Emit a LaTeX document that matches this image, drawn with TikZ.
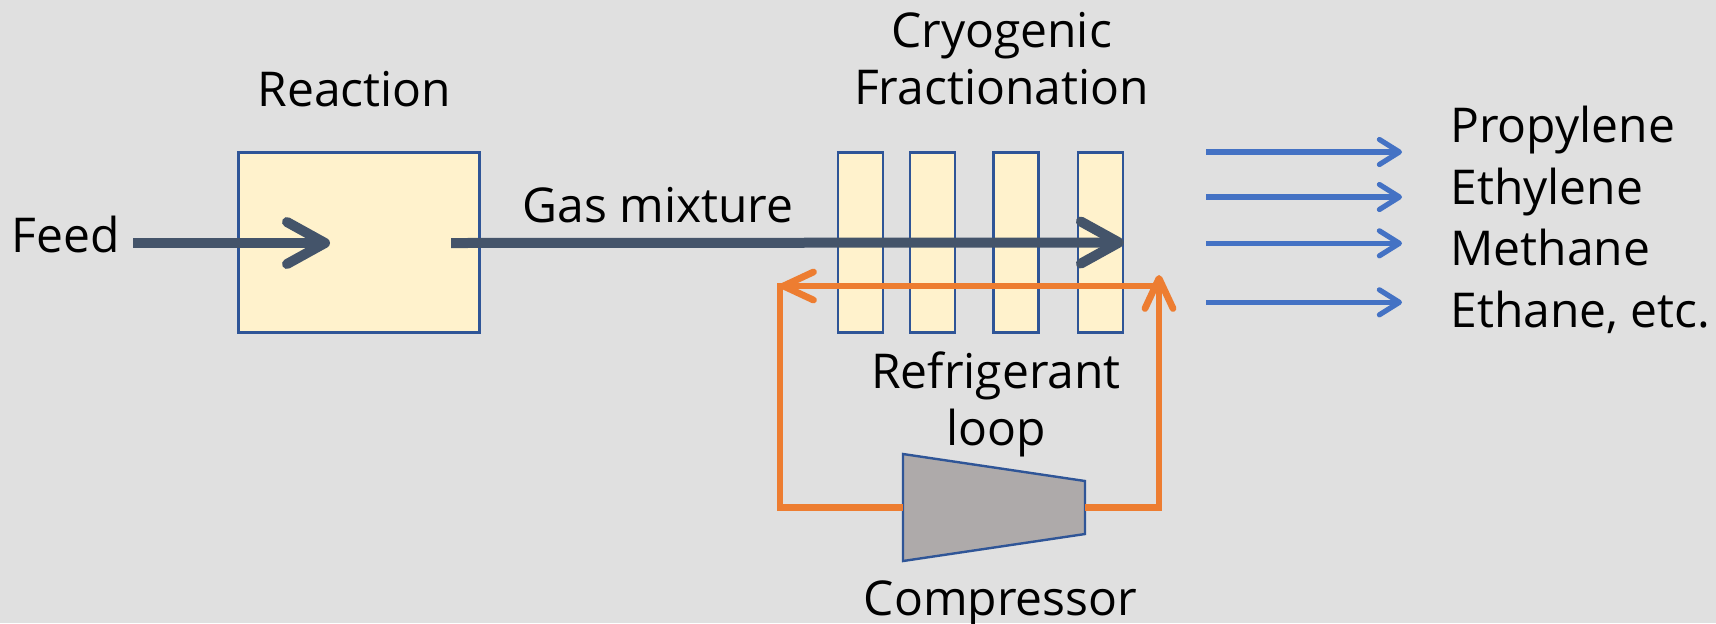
\documentclass[tikz,border=0pt]{standalone}
\usepackage{fontspec}
\setmainfont{Open Sans}
\usetikzlibrary{arrows.meta}
\definecolor{slide}{HTML}{E0E0E0}
\definecolor{unitfill}{HTML}{FFF2CC}
\definecolor{unitline}{HTML}{2F5597}
\definecolor{streamdark}{HTML}{44546A}
\definecolor{loopline}{HTML}{ED7D31}
\definecolor{productline}{HTML}{4472C4}
\definecolor{compfill}{HTML}{AEAAAA}

\begin{document}
\begin{tikzpicture}[
        x=0.5pt, y=-0.5pt,
        every node/.style={font=\fontsize{24}{28.5}\selectfont, inner sep=0pt},
        unit/.style={draw=unitline, line width=1.2pt, fill=unitfill},
        mainflow/.style={draw=streamdark, line width=5pt, -{Straight Barb[length=19pt, width=21pt, round]}},
        refloop/.style={draw=loopline, line width=3.4pt},
        looptip/.style={-{Straight Barb[length=15pt, width=14pt, round]}},
        product/.style={draw=productline, line width=2.6pt, -{Straight Barb[length=10pt, width=12.5pt, round]}}
    ]
        \useasboundingbox (0,0) rectangle (1716,623);
        \fill[slide] (0,0) rectangle (1716,623);

        % units
        \node[unit, minimum width=120.5pt, minimum height=90pt] (reactor) at (359,242.5) {};
        \node[unit, minimum width=22.5pt, minimum height=90pt] (col1) at (860.3,242.5) {};
        \node[unit, minimum width=22.5pt, minimum height=90pt] (col2) at (932.7,242.5) {};
        \node[unit, minimum width=22.5pt, minimum height=90pt] (col3) at (1015.9,242.5) {};
        \node[unit, minimum width=22.5pt, minimum height=90pt] (col4) at (1100.2,242.5) {};
        \draw[unitline, line width=1.2pt, fill=compfill]
            (903,454) -- (1085,481) -- (1085,534) -- (903,561) -- cycle;
        \coordinate (compin) at (903,507.5);
        \coordinate (compout) at (1085,507.5);

        % labels
        \node[anchor=base] (feed) at (66,252.5) {Feed};
        \node[anchor=base] (reactlabel) at (354.5,106) {Reaction};
        \node[anchor=base] (mixlabel) at (658,222) {Gas mixture};
        \node[anchor=base, align=center] (fraclabel) at (1001.5,104) {Cryogenic\\Fractionation};
        \node[anchor=base, align=center] (looplabel) at (996,445) {Refrigerant\\loop};
        \node[anchor=base] (complabel) at (1000.5,615) {Compressor};
        \node[anchor=base west, align=left, font=\fontsize{24}{30.7}\selectfont] (products)
            at (1450,327) {Propylene\\Ethylene\\Methane\\Ethane, etc.};

        % main stream
        \coordinate (feedin) at (133,243);
        \coordinate (feedtip) at (330,243);
        \coordinate (mixout) at (451,243);
        \draw[mainflow] (feedin) -- (feedtip);
        \draw[mainflow] (mixout) -- (col4.east);

        % refrigerant loop
        \coordinate (looptop) at (1159,275);
        \coordinate (loopcorner) at (1159,286);
        \coordinate (loopleft) at (780,286);
        \draw[refloop, looptip] (compout) -| (looptop);
        \draw[refloop, looptip] (loopcorner) -- (loopleft);
        \draw[refloop] ([yshift=1.7pt]loopleft) |- (compin);

        % products
        \coordinate (out1) at (1206,152);
        \coordinate (out2) at (1206,197);
        \coordinate (out3) at (1206,243.3);
        \coordinate (out4) at (1206,302.3);
        \draw[product] (out1) -- ++(196,0);
        \draw[product] (out2) -- ++(196,0);
        \draw[product] (out3) -- ++(196,0);
        \draw[product] (out4) -- ++(196,0);
\end{tikzpicture}
\end{document}
